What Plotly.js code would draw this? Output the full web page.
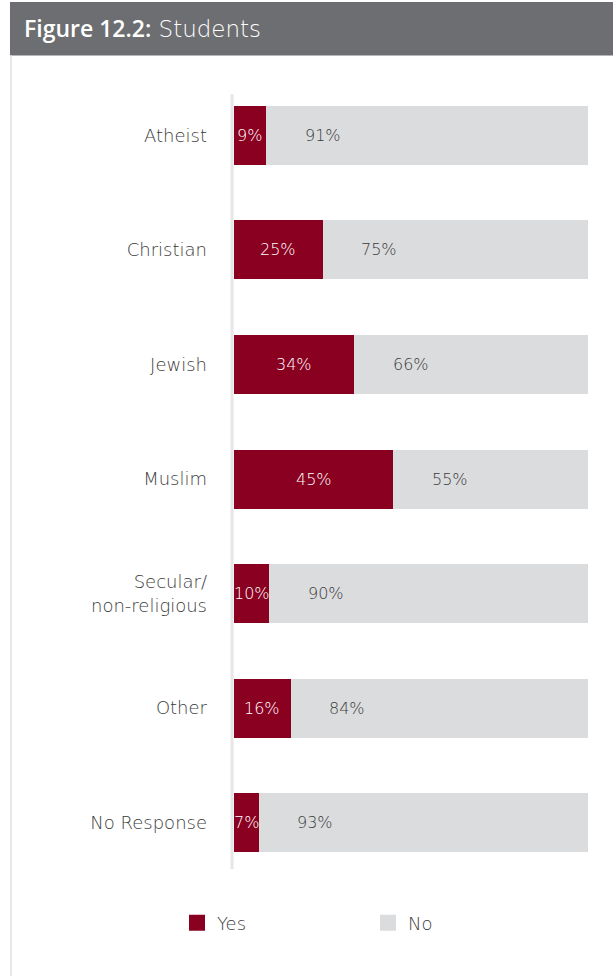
<!DOCTYPE html>
<html>
<head>
<meta charset="utf-8">
<script src="https://cdn.plot.ly/plotly-3.0.1.min.js"></script>
<style>
  html, body { margin: 0; padding: 0; background: #ffffff; }
  #chart { width: 613px; height: 976px; }
</style>
</head>
<body>
<div id="chart"></div>
<script>
const categories = ["Atheist", "Christian", "Jewish", "Muslim", "Secular/<br>non-religious", "Other", "No Response"];
const yesValues = [9, 25, 34, 45, 10, 16, 7];
const noValues = [91, 75, 66, 55, 90, 84, 93];
const yesLabels = ["9%", "25%", "34%", "45%", "10%", "16%", "7%"];
const noLabels = ["91%", "75%", "66%", "55%", "90%", "84%", "93%"];

const RED = "#8a0021";
const GREY = "#dbdcde";
const TEXT = "#3a3a3a";
const FONT = "DejaVu Sans, Open Sans, sans-serif";

const traces = [
  { type: "bar", orientation: "h", name: "Yes", y: categories, x: yesValues,
    marker: { color: RED }, showlegend: false, hoverinfo: "none" },
  { type: "bar", orientation: "h", name: "No", y: categories, x: noValues,
    marker: { color: GREY }, showlegend: false, hoverinfo: "none" },
  { type: "scatter", mode: "markers", name: "Yes", x: [null], y: [null],
    marker: { symbol: "square", size: 17, color: RED }, showlegend: true },
  { type: "scatter", mode: "markers", name: "No", x: [null], y: [null],
    marker: { symbol: "square", size: 17, color: GREY }, showlegend: true }
];

const annotations = [];
categories.forEach((c, i) => {
  annotations.push({ x: yesValues[i] / 2, y: c, xref: "x", yref: "y", text: yesLabels[i],
    showarrow: false, xanchor: "center", yanchor: "middle",
    font: { family: FONT, size: 16, weight: 300, color: "#ffffff" } });
  annotations.push({ x: yesValues[i] + 16, y: c, xref: "x", yref: "y", text: noLabels[i],
    showarrow: false, xanchor: "center", yanchor: "middle",
    font: { family: FONT, size: 16, weight: 300, color: TEXT } });
});

const layout = {
  width: 613, height: 976,
  margin: { l: 234, r: 25, t: 78, b: 96 },
  paper_bgcolor: "#ffffff", plot_bgcolor: "#ffffff",
  barmode: "stack", bargap: 0.485,
  font: { family: FONT, color: TEXT },
  title: {
    text: "<span style=\"font-weight:600\">Figure 12.2:</span><span style=\"font-family:'DejaVu Sans';font-weight:300\"> Students</span>",
    x: 24 / 613, xref: "container", xanchor: "left",
    y: 1 - 29 / 976, yref: "container", yanchor: "middle",
    font: { family: "Open Sans, sans-serif", size: 23, color: "#ffffff" }
  },
  xaxis: { range: [0, 100], visible: false, fixedrange: true },
  yaxis: {
    autorange: "reversed", showgrid: false, zeroline: false, showline: false,
    ticks: "", ticklabelstandoff: 26,
    tickfont: { family: FONT, size: 18, weight: 300, color: TEXT }, fixedrange: true
  },
  showlegend: true,
  legend: {
    orientation: "h", traceorder: "normal", x: -0.161, xanchor: "left", y: -0.0536, yanchor: "middle",
    entrywidth: 146, font: { family: FONT, size: 18, weight: 300, color: TEXT },
    bgcolor: "rgba(0,0,0,0)"
  },
  annotations: annotations,
  shapes: [
    { type: "rect", xref: "paper", yref: "paper", x0: -0.6328, x1: 1.2, y0: 1.028, y1: 1.0948,
      fillcolor: "#6d6e71", line: { width: 0 }, layer: "below" },
    { type: "line", xref: "paper", yref: "paper", x0: -0.630, x1: -0.630, y0: -0.2, y1: 1.028,
      line: { color: "#e8e8e8", width: 2 }, layer: "below" },
    { type: "line", xref: "paper", yref: "paper", x0: -0.0056, x1: -0.0056, y0: 0.0137, y1: 0.98,
      line: { color: "#e6e6e6", width: 3 }, layer: "below" }
  ]
};

Plotly.newPlot("chart", traces, layout, { displayModeBar: false, staticPlot: true });
</script>
</body>
</html>
